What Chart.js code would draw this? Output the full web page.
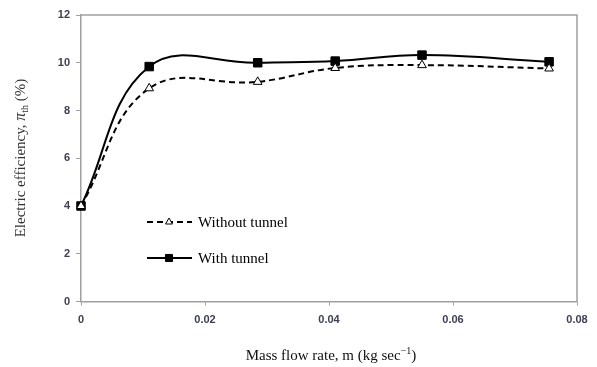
<!DOCTYPE html>
<html>
<head>
<meta charset="utf-8">
<script src="https://cdn.jsdelivr.net/npm/chart.js@4/dist/chart.umd.min.js"></script>
<style>
  html, body { margin: 0; padding: 0; background: #fff; }
  #wrap { width: 597px; height: 367px; }
</style>
</head>
<body>
<div id="wrap"><canvas id="chart" width="597" height="367"></canvas></div>
<script>
// values
const massFlow = [0, 0.011, 0.0285, 0.041, 0.055, 0.0755]
const withoutTunnel = [4.0, 8.93, 9.2, 9.78, 9.9, 9.76]
const withTunnel = [4.0, 9.84, 10.0, 10.07, 10.32, 10.04]
const xTicks = [0, 0.02, 0.04, 0.06, 0.08]
const yTicks = [0, 2, 4, 6, 8, 10, 12]
const seriesNames = ['Without tunnel', 'With tunnel']

const toPoints = (ys) => massFlow.map((x, i) => ({ x: x, y: ys[i] }))

const serif = "'Liberation Serif', 'Times New Roman', serif"

// draws box, legend and axis titles (sub/superscripts need manual text)
const extras = {
  id: 'extras',
  afterDraw(chart) {
    const ctx = chart.ctx
    const a = chart.chartArea
    ctx.save()
    // top and right frame
    ctx.strokeStyle = '#a0a0a0'
    ctx.lineWidth = 1.5
    ctx.beginPath()
    ctx.moveTo(a.left, a.top)
    ctx.lineTo(a.right, a.top)
    ctx.lineTo(a.right, a.bottom)
    ctx.stroke()

    // legend inside plot
    const rows = [
      { ds: chart.data.datasets[0], y: 222, r: 4 },
      { ds: chart.data.datasets[1], y: 258, r: 5 }
    ]
    rows.forEach(r => {
      ctx.strokeStyle = '#000'
      ctx.lineWidth = 2
      ctx.setLineDash(r.ds.borderDash || [])
      ctx.beginPath()
      ctx.moveTo(147, r.y)
      ctx.lineTo(192, r.y)
      ctx.stroke()
      ctx.setLineDash([])
      ctx.fillStyle = r.ds.pointBackgroundColor
      ctx.strokeStyle = r.ds.pointBorderColor
      ctx.lineWidth = 1
      Chart.helpers.drawPoint(ctx, {
        pointStyle: r.ds.pointStyle,
        radius: r.r,
        borderWidth: 1,
        rotation: 0
      }, 169, r.y)
      ctx.fillStyle = '#000'
      ctx.font = '15px ' + serif
      ctx.textBaseline = 'middle'
      ctx.textAlign = 'left'
      ctx.fillText(r.ds.label, 198, r.y + 1)
    })

    // x axis title with superscript
    ctx.fillStyle = '#111'
    ctx.textBaseline = 'alphabetic'
    const xParts = [
      { t: 'Mass flow rate, m (kg sec', f: '15px ' + serif, dy: 0 },
      { t: '\u22121', f: '10px ' + serif, dy: -6 },
      { t: ')', f: '15px ' + serif, dy: 0 }
    ]
    let w = 0
    xParts.forEach(p => { ctx.font = p.f; w += ctx.measureText(p.t).width })
    let x = (a.left + a.right) / 2 - w / 2 + 2
    xParts.forEach(p => {
      ctx.font = p.f
      ctx.fillText(p.t, x, 360 + p.dy)
      x += ctx.measureText(p.t).width
    })

    // y axis title with subscript
    ctx.fillStyle = '#333'
    ctx.translate(25, 158)
    ctx.rotate(-Math.PI / 2)
    const yParts = [
      { t: 'Electric efficiency, ', f: '15px ' + serif, dy: 0 },
      { t: '\u03c0', f: 'italic 16px ' + serif, dy: 0 },
      { t: 'th', f: '10px ' + serif, dy: 3 },
      { t: ' (%)', f: '15px ' + serif, dy: 0 }
    ]
    w = 0
    yParts.forEach(p => { ctx.font = p.f; w += ctx.measureText(p.t).width })
    x = -w / 2
    yParts.forEach(p => {
      ctx.font = p.f
      ctx.fillText(p.t, x, p.dy)
      x += ctx.measureText(p.t).width
    })
    ctx.restore()
  }
}

const tickFont = { family: "'Liberation Sans', Arial, sans-serif", size: 11, weight: 'bold' }

new Chart(document.getElementById('chart').getContext('2d'), {
  type: 'line',
  data: {
    datasets: [
      {
        label: seriesNames[0],
        data: toPoints(withoutTunnel),
        borderColor: '#000',
        borderWidth: 2,
        borderDash: [6, 4],
        pointStyle: 'triangle',
        pointRadius: 5,
        pointBorderWidth: 1,
        pointBackgroundColor: '#fff',
        pointBorderColor: '#000',
        tension: 0.4,
        clip: false
      },
      {
        label: seriesNames[1],
        data: toPoints(withTunnel),
        borderColor: '#000',
        borderWidth: 2,
        pointStyle: 'rect',
        pointRadius: 6,
        pointBorderWidth: 1,
        pointBackgroundColor: '#000',
        pointBorderColor: '#000',
        tension: 0.4,
        clip: false
      }
    ]
  },
  options: {
    responsive: false,
    animation: false,
    layout: { padding: { left: 0, right: 20, top: 15, bottom: 0 } },
    plugins: {
      legend: { display: false },
      tooltip: { enabled: false }
    },
    scales: {
      x: {
        type: 'linear',
        min: 0,
        max: 0.08,
        afterBuildTicks: (s) => { s.ticks = xTicks.map(v => ({ value: v })) },
        afterFit: (s) => { s.height = 65.5 },
        ticks: {
          font: tickFont,
          color: '#3e4052',
          padding: 8,
          callback: (v) => String(v)
        },
        grid: { drawOnChartArea: false, drawTicks: true, tickLength: 4, color: '#a0a0a0' },
        border: { display: true, color: '#a0a0a0', width: 1.5 }
      },
      y: {
        min: 0,
        max: 12,
        afterBuildTicks: (s) => { s.ticks = yTicks.map(v => ({ value: v })) },
        afterFit: (s) => { s.width = 81 },
        ticks: {
          font: tickFont,
          color: '#3e4052',
          padding: 6
        },
        grid: { drawOnChartArea: false, drawTicks: true, tickLength: 5, color: '#a0a0a0' },
        border: { display: true, color: '#a0a0a0', width: 1.5 }
      }
    }
  },
  plugins: [extras]
})
</script>
</body>
</html>
